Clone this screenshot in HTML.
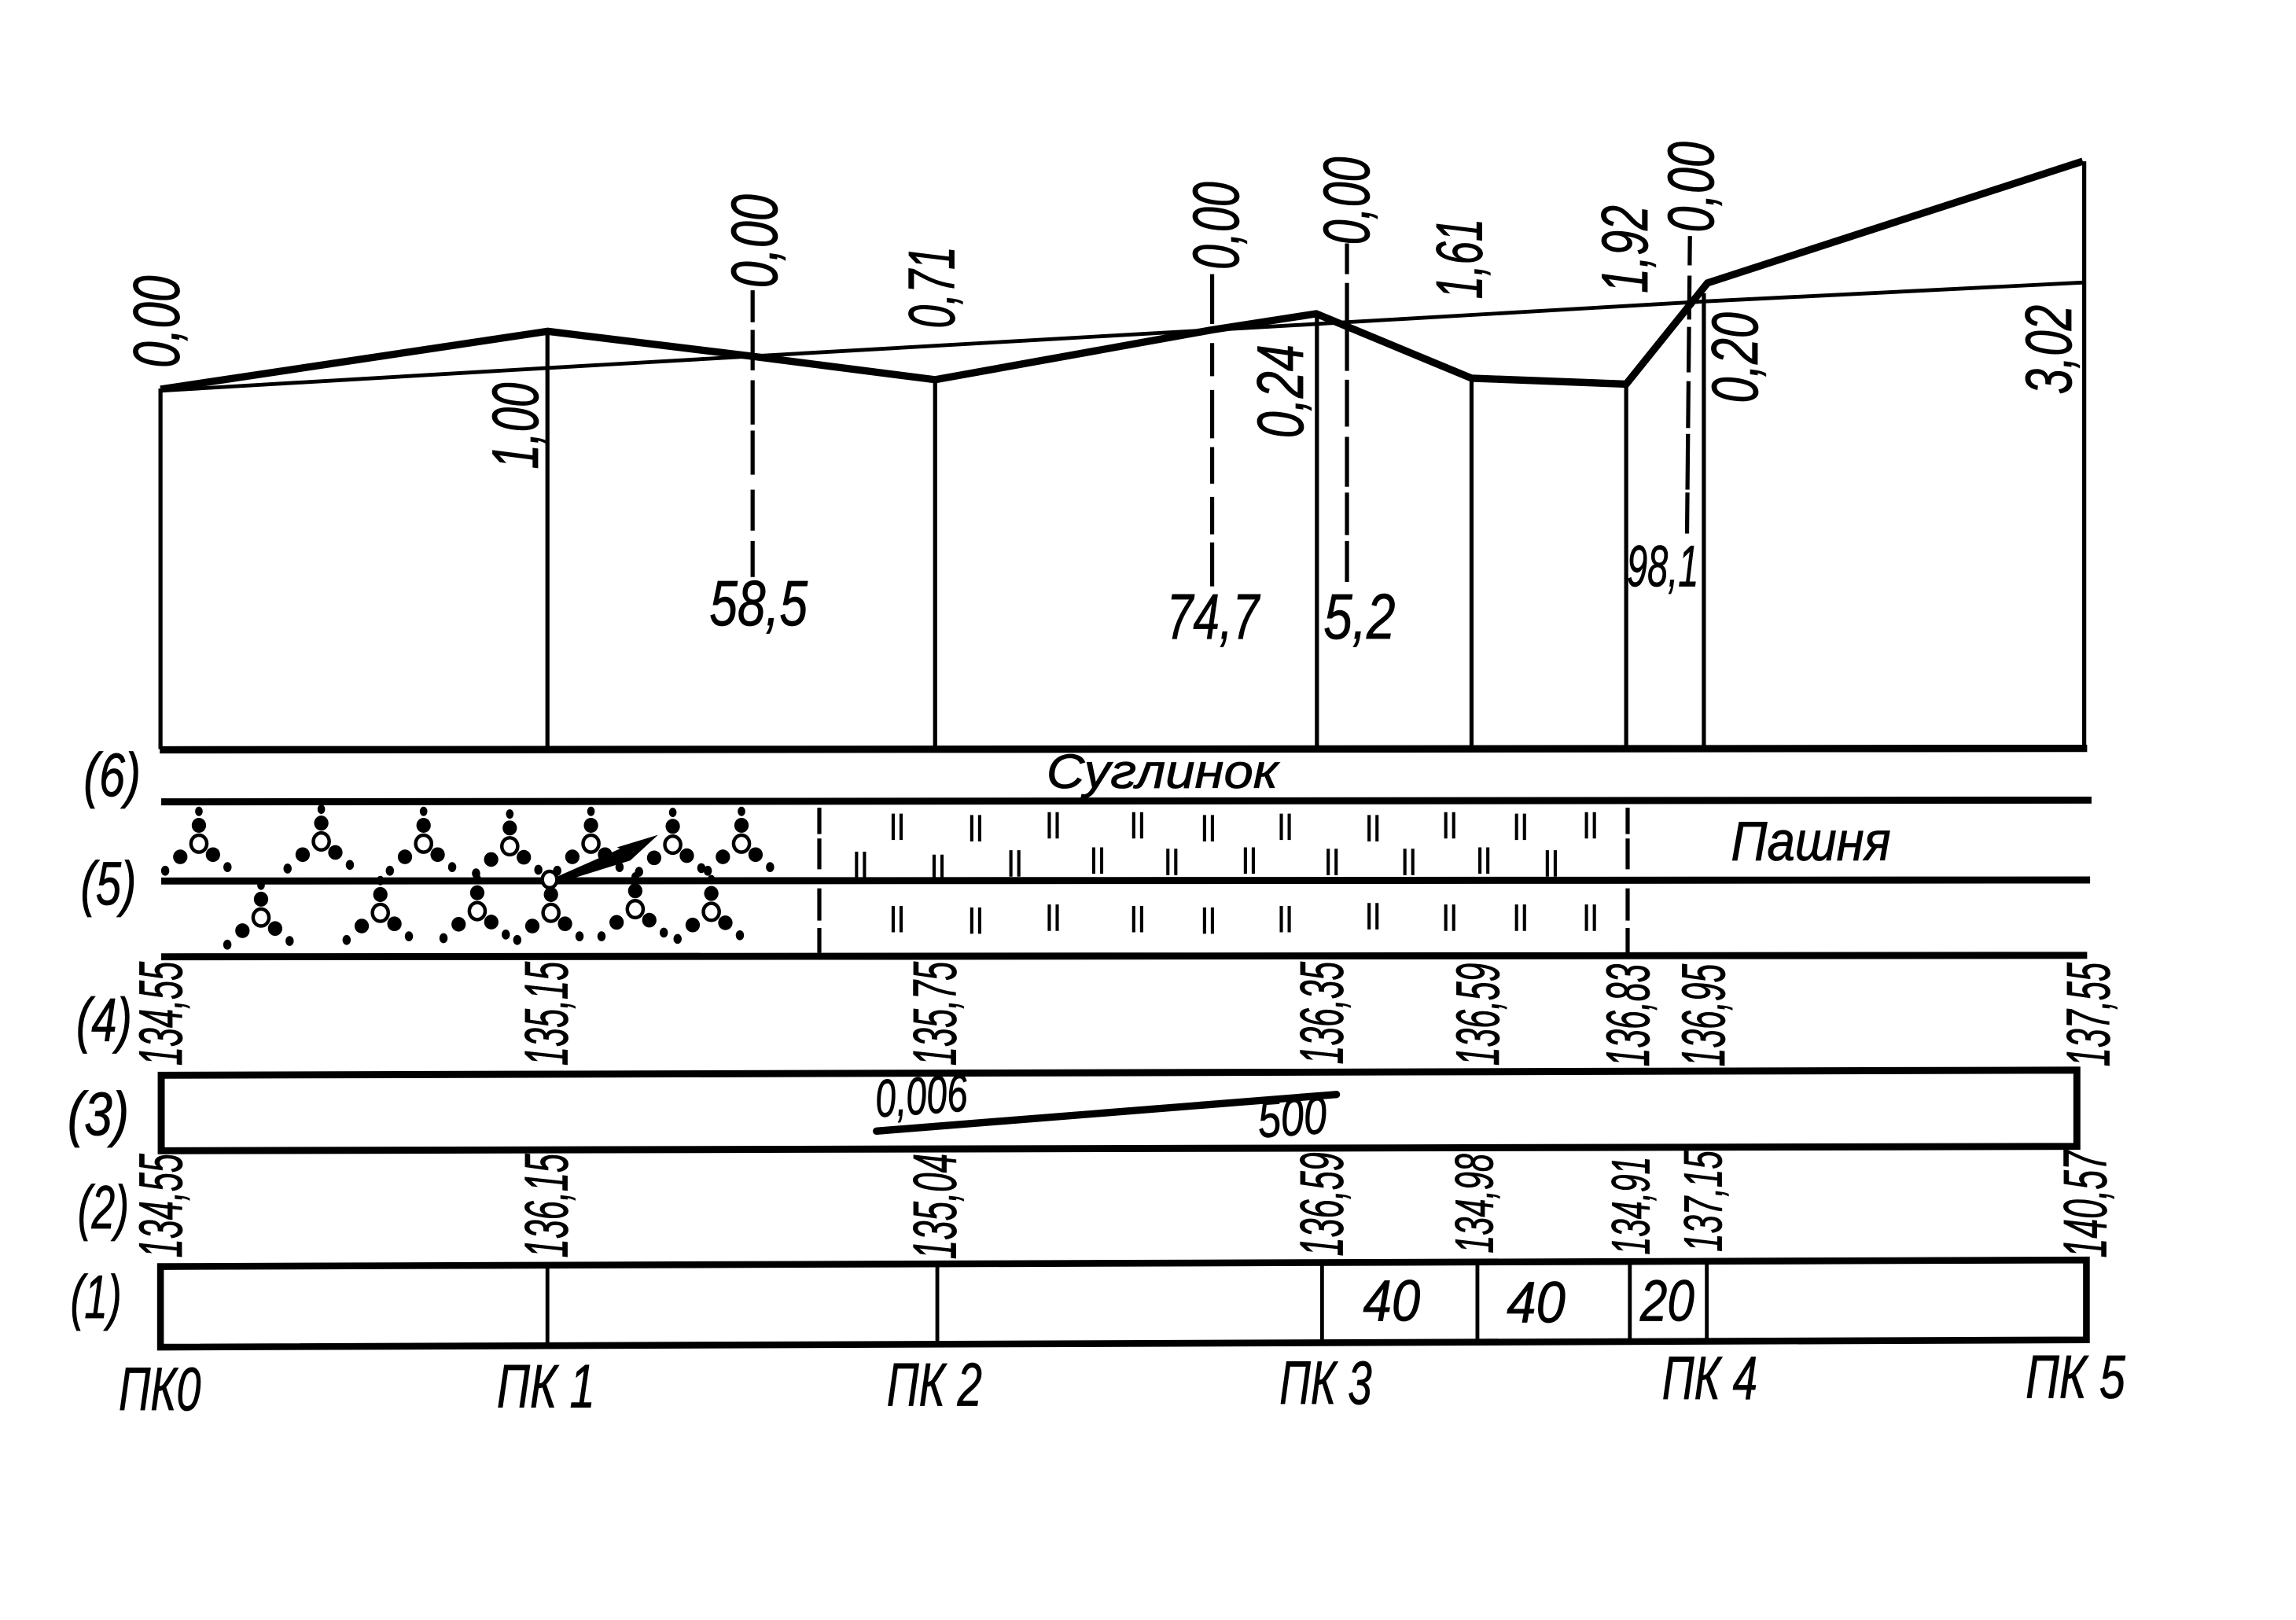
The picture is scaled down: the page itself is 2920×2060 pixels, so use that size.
<!DOCTYPE html>
<html><head><meta charset="utf-8"><style>
html,body{margin:0;padding:0;background:#fff}
svg{display:block}
text{font-family:"Liberation Sans",sans-serif;font-style:italic;fill:#000;stroke:#000;stroke-width:.45}
</style></head><body>
<svg xmlns="http://www.w3.org/2000/svg" width="2920" height="2060" viewBox="0 0 1566.5 1105.1">
<rect width="1566.5" height="1105.1" fill="#fff"/>
<defs>
<g id="c">
<ellipse cx="0" cy="-22" rx="2.6" ry="3.2" fill="#000"/>
<ellipse cx="0" cy="-12.5" rx="4.9" ry="5.1" fill="#000"/>
<ellipse cx="-12.7" cy="9" rx="4.9" ry="5" fill="#000"/>
<ellipse cx="9.6" cy="7.5" rx="4.9" ry="5" fill="#000"/>
<ellipse cx="19.5" cy="16" rx="2.8" ry="3.4" fill="#000"/>
<ellipse cx="-23" cy="18.5" rx="2.8" ry="3.4" fill="#000"/>
<ellipse cx="0" cy="0" rx="5.4" ry="5.8" fill="#fff" stroke="#000" stroke-width="2.4"/>
</g>
<path id="p" d="M-2.7 0V18M2.7 0V18" stroke="#000" stroke-width="2.2" fill="none"/>
</defs>

<!-- profile -->
<g fill="none" stroke="#000">
<path d="M109.5 511V265M373.5 511V226M638 511V259M898.5 511V215M1004 511V258M1109.5 511V262M1162.5 511V200M1422 511V110" stroke-width="2.8"/>
<path d="M109.5 266.5L373.5 251L513 243L898 221L1165 205.5L1422 192.7" stroke-width="2.6"/>
<path d="M109.5 265.5L373.5 226L513 243L638 259L827 225L898 214L1004 258L1109.5 262L1165 193L1421 110" stroke-width="5" stroke-linejoin="round"/>
<path d="M109 511.5L1424 510.5" stroke-width="5"/>
<!-- dashed -->
<path d="M513.5 198V393.6" stroke-width="2.8" stroke-dasharray="21.8 5.2 27.6 6.8 30.2 4.1 30.1 10.2 28 7 24.6"/>
<path d="M827 187V400" stroke-width="2.8" stroke-dasharray="34 13 22.6 9.4 33 6 25 9 25.5 5.5 30"/>
<path d="M919 166V397" stroke-width="2.8" stroke-dasharray="21 6 60 6 32 7 34 4 29 4 28"/>
<path d="M1153 161L1151 365" stroke-width="2.8" stroke-dasharray="20 7 30 5 31 6 32 4 38 2 28"/>
<!-- layer lines -->
<path d="M110 547L1427 545.8M110 601L1426 600.3M110 652.7L1424 651.7" stroke-width="4.8"/>
<path d="M559 551V569M559 572V593M559 606V628M559 633V650M1110.5 551V569M1110.5 572V593M1110.5 606V628M1110.5 633V650" stroke-width="2.8"/>
<!-- boxes -->
<path d="M110 733.5L1417 730V782L110 785Z" stroke-width="4.8"/>
<path d="M109.5 864L1423.5 859.5V914L109.5 919Z" stroke-width="4.6"/>
<path d="M373.5 864V917M639.5 863V917M902 860V915M1008 860V915M1112 860V915M1164.5 860V915" stroke-width="2.6"/>
<path d="M598 771.6L911.8 746.6" stroke-width="5" stroke-linecap="round"/>
</g>
<polygon points="449,569.5 430,587 385,601 380,598 423,579 421,578" fill="#000"/>

<!-- clusters -->
<use href="#c" x="135.7" y="575.5"/><use href="#c" x="219.2" y="574"/><use href="#c" x="289" y="575.5"/><use href="#c" x="347.8" y="577.3"/><use href="#c" x="403.2" y="575.5"/><use href="#c" x="459" y="576.2"/><use href="#c" x="505.9" y="575.5"/>
<use href="#c" x="178.1" y="625.9"/><use href="#c" x="259.5" y="622.7"/><use href="#c" x="325.6" y="621.5"/><use href="#c" x="375.9" y="622.7"/><use href="#c" x="433.4" y="620.2"/><use href="#c" x="485.3" y="622"/>
<ellipse cx="375" cy="600" rx="5" ry="5.6" fill="#fff" stroke="#000" stroke-width="2.4"/>

<!-- parallel marks -->
<use href="#p" x="612.1" y="555"/><use href="#p" x="665.7" y="556"/><use href="#p" x="718.6" y="554"/><use href="#p" x="776.2" y="554"/><use href="#p" x="824.5" y="556"/><use href="#p" x="876.9" y="555"/><use href="#p" x="936.8" y="556"/><use href="#p" x="989.1" y="554"/><use href="#p" x="1037.4" y="555"/><use href="#p" x="1085.1" y="554"/>
<use href="#p" x="587.1" y="581"/><use href="#p" x="640" y="583"/><use href="#p" x="692.4" y="580"/><use href="#p" x="748.9" y="578"/><use href="#p" x="799.5" y="579"/><use href="#p" x="852.4" y="578"/><use href="#p" x="908.9" y="579"/><use href="#p" x="961.2" y="579"/><use href="#p" x="1012.4" y="578"/><use href="#p" x="1058.4" y="580"/>
<use href="#p" x="612.1" y="618"/><use href="#p" x="665.7" y="619"/><use href="#p" x="718.6" y="617"/><use href="#p" x="776.2" y="618"/><use href="#p" x="824.5" y="619"/><use href="#p" x="876.9" y="618"/><use href="#p" x="936.8" y="616"/><use href="#p" x="989.1" y="617"/><use href="#p" x="1037.4" y="617"/><use href="#p" x="1085.1" y="617"/>

<!-- top rotated labels -->
<g font-size="45">
<text transform="translate(122,251) rotate(-90)" textLength="63" lengthAdjust="spacingAndGlyphs">0,00</text>
<text transform="translate(530,196.5) rotate(-90)" textLength="64" lengthAdjust="spacingAndGlyphs">0,00</text>
<text transform="translate(651,224) rotate(-90)" textLength="56" lengthAdjust="spacingAndGlyphs">0,71</text>
<text transform="translate(367,320) rotate(-90)" textLength="59" lengthAdjust="spacingAndGlyphs">1,00</text>
<text transform="translate(845,184) rotate(-90)" textLength="60" lengthAdjust="spacingAndGlyphs">0,00</text>
<text transform="translate(934,167) rotate(-90)" textLength="60" lengthAdjust="spacingAndGlyphs">0,00</text>
<text transform="translate(1011,204) rotate(-90)" textLength="55" lengthAdjust="spacingAndGlyphs">1,61</text>
<text transform="translate(1124,200) rotate(-90)" textLength="60" lengthAdjust="spacingAndGlyphs">1,92</text>
<text transform="translate(1169,158.6) rotate(-90)" textLength="62" lengthAdjust="spacingAndGlyphs">0,00</text>
<text transform="translate(889,299) rotate(-90)" textLength="64" lengthAdjust="spacingAndGlyphs">0,24</text>
<text transform="translate(1199,275) rotate(-90)" textLength="62" lengthAdjust="spacingAndGlyphs">0,20</text>
<text transform="translate(1413,269) rotate(-90)" textLength="61" lengthAdjust="spacingAndGlyphs">3,02</text>
</g>
<g font-size="44">
<text x="484" y="426.4" textLength="67" lengthAdjust="spacingAndGlyphs">58,5</text>
<text x="796" y="435.5" textLength="63" lengthAdjust="spacingAndGlyphs">74,7</text>
<text x="903" y="435.5" textLength="49" lengthAdjust="spacingAndGlyphs">5,2</text>
<text x="1110" y="400" font-size="40" textLength="49" lengthAdjust="spacingAndGlyphs">98,1</text>
</g>

<text x="714" y="537.4" font-size="33" textLength="158" lengthAdjust="spacingAndGlyphs">Суглинок</text>
<text x="1181" y="587" font-size="38" textLength="109" lengthAdjust="spacingAndGlyphs">Пашня</text>

<!-- row 4 -->
<g font-size="42">
<text transform="translate(124,727) rotate(-90)" textLength="71" lengthAdjust="spacingAndGlyphs">134,55</text>
<text transform="translate(387,727) rotate(-90)" textLength="71" lengthAdjust="spacingAndGlyphs">135,15</text>
<text transform="translate(652,727) rotate(-90)" textLength="71" lengthAdjust="spacingAndGlyphs">135,75</text>
<text transform="translate(916,726) rotate(-90)" textLength="70" lengthAdjust="spacingAndGlyphs">136,35</text>
<text transform="translate(1022.6,727) rotate(-90)" textLength="70" lengthAdjust="spacingAndGlyphs">136,59</text>
<text transform="translate(1125,727.6) rotate(-90)" textLength="70" lengthAdjust="spacingAndGlyphs">136,83</text>
<text transform="translate(1176.6,727.6) rotate(-90)" textLength="70" lengthAdjust="spacingAndGlyphs">136,95</text>
<text transform="translate(1439,727.6) rotate(-90)" textLength="71" lengthAdjust="spacingAndGlyphs">137,55</text>
<!-- row 2 -->
<text transform="translate(124,858) rotate(-90)" textLength="71" lengthAdjust="spacingAndGlyphs">134,55</text>
<text transform="translate(387,858) rotate(-90)" textLength="71" lengthAdjust="spacingAndGlyphs">136,15</text>
<text transform="translate(652,859) rotate(-90)" textLength="72" lengthAdjust="spacingAndGlyphs">135,04</text>
<text transform="translate(916,857) rotate(-90)" textLength="71" lengthAdjust="spacingAndGlyphs">136,59</text>
<text transform="translate(1018.5,855) rotate(-90)" textLength="68" font-size="37" lengthAdjust="spacingAndGlyphs">134,98</text>
<text transform="translate(1125.3,856) rotate(-90)" textLength="67" font-size="37" lengthAdjust="spacingAndGlyphs">134,91</text>
<text transform="translate(1174.6,854) rotate(-90)" textLength="69" font-size="37" lengthAdjust="spacingAndGlyphs">137,15</text>
<text transform="translate(1437,858) rotate(-90)" textLength="73" lengthAdjust="spacingAndGlyphs">140,57</text>
</g>

<!-- gradient -->
<text transform="translate(598,762) rotate(-4)" font-size="36" textLength="63" lengthAdjust="spacingAndGlyphs">0,006</text>
<text transform="translate(859,776) rotate(-4)" font-size="36" textLength="47" lengthAdjust="spacingAndGlyphs">500</text>

<!-- box labels -->
<g font-size="40">
<text x="930" y="901" textLength="39" lengthAdjust="spacingAndGlyphs">40</text>
<text x="1028" y="902" textLength="40" lengthAdjust="spacingAndGlyphs">40</text>
<text x="1119" y="901" textLength="37" lengthAdjust="spacingAndGlyphs">20</text>
</g>

<!-- PK labels -->
<g font-size="42">
<text x="81" y="962" textLength="56" lengthAdjust="spacingAndGlyphs">ПК0</text>
<text x="339" y="960" textLength="67" lengthAdjust="spacingAndGlyphs">ПК 1</text>
<text x="605" y="959" textLength="65" lengthAdjust="spacingAndGlyphs">ПК 2</text>
<text x="873" y="957.6" textLength="63" lengthAdjust="spacingAndGlyphs">ПК 3</text>
<text x="1134" y="954.5" textLength="65" lengthAdjust="spacingAndGlyphs">ПК 4</text>
<text x="1382" y="953.5" textLength="68" lengthAdjust="spacingAndGlyphs">ПК 5</text>
</g>

<!-- row numbers -->
<g font-size="42">
<text x="57" y="543" textLength="39" lengthAdjust="spacingAndGlyphs">(6)</text>
<text x="55" y="617" textLength="38" lengthAdjust="spacingAndGlyphs">(5)</text>
<text x="52" y="710" textLength="38" lengthAdjust="spacingAndGlyphs">(4)</text>
<text x="46" y="774" textLength="42" lengthAdjust="spacingAndGlyphs">(3)</text>
<text x="53" y="838" textLength="35" lengthAdjust="spacingAndGlyphs">(2)</text>
<text x="48" y="899" textLength="35" lengthAdjust="spacingAndGlyphs">(1)</text>
</g>
</svg>
</body></html>
